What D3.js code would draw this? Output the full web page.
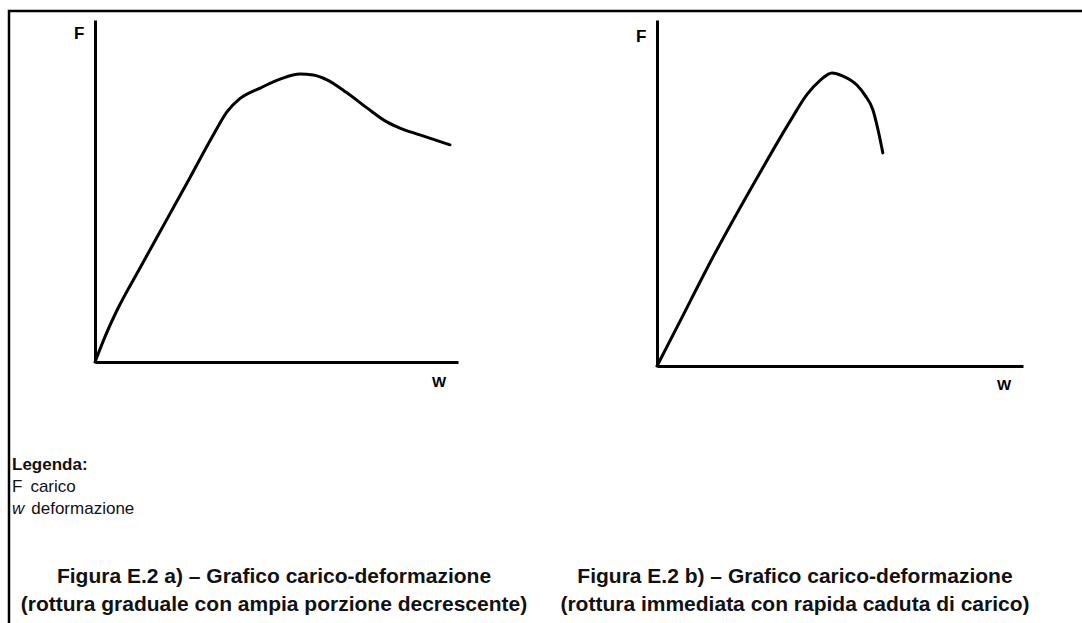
<!DOCTYPE html>
<html>
<head>
<meta charset="utf-8">
<script src="https://cdn.jsdelivr.net/npm/d3@7"></script>
<style>
  body { margin: 0; background: #fff; }
  svg { display: block; font-family: "Liberation Sans", Arial, sans-serif; }
  .axis path { stroke: #000; stroke-width: 3px; }
  .curve { fill: none; stroke: #000; stroke-width: 3px; stroke-linejoin: round; stroke-linecap: round; }
</style>
</head>
<body>
<svg width="1082" height="623"></svg>
<script>
// curve a) gradual failure: deformation w vs load F (relative units 0-100)
var wA = [0, 3.0, 6.1, 12.4, 19.8, 26.0, 32.5, 36.4, 39.9, 45.5, 51.0, 56.5, 60.1, 63.9, 69.4, 74.9, 80.4, 84.0, 89.5, 97.8];
var fA = [0, 8.0, 15.2, 27.5, 41.7, 53.6, 66.2, 73.2, 77.0, 80.1, 82.7, 84.2, 83.9, 82.5, 78.7, 74.3, 70.2, 68.4, 66.4, 63.5];

// curve b) immediate failure
var wB = [0, 5.5, 15.3, 28.1, 36.5, 41.0, 44.5, 47.8, 50.8, 54.6, 56.8, 59.0, 60.4, 61.7];
var fB = [0, 11.3, 31.5, 55.8, 71.0, 78.5, 82.5, 84.7, 83.8, 81.2, 78.3, 74.0, 68.2, 61.6];

var legendLines = ["carico", "deformazione"];
var captionA = ["Figura E.2 a) \u2013 Grafico carico-deformazione", "(rottura graduale con ampia porzione decrescente)"];
var captionB = ["Figura E.2 b) \u2013 Grafico carico-deformazione", "(rottura immediata con rapida caduta di carico)"];

var svg = d3.select("svg");
svg.append("rect").attr("width", 1082).attr("height", 623).attr("fill", "#fff");

// frame (top and left edge only)
svg.append("path")
    .attr("d", "M9,623 V11 H1082")
    .attr("fill", "none")
    .attr("stroke", "#000")
    .attr("stroke-width", 2.5);

function drawPanel(ws, fs, box) {
    var x = d3.scaleLinear().domain([0, 100]).range([box.left, box.right]);
    var y = d3.scaleLinear().domain([0, 100]).range([box.bottom, box.top]);

    svg.append("g")
        .attr("class", "axis")
        .attr("transform", "translate(0," + box.bottom + ")")
        .call(d3.axisBottom(x).tickValues([]).tickSizeOuter(0));
    svg.append("g")
        .attr("class", "axis")
        .attr("transform", "translate(" + box.left + ",0)")
        .call(d3.axisLeft(y).tickValues([]).tickSizeOuter(0));

    var pts = ws.map(function(w, i) { return [w, fs[i]]; });
    var line = d3.line()
        .x(function(d) { return x(d[0]); })
        .y(function(d) { return y(d[1]); })
        .curve(d3.curveMonotoneX);
    svg.append("path").datum(pts).attr("class", "curve").attr("d", line);

    svg.append("text")
        .attr("x", box.left - 21)
        .attr("y", box.top + box.fDy)
        .style("font-size", "17px")
        .style("font-weight", "bold")
        .text("F");
    svg.append("text")
        .attr("x", x(100) - 26)
        .attr("y", box.bottom + box.wDy)
        .style("font-size", "15px")
        .style("font-weight", "bold")
        .text("W");
}

drawPanel(wA, fA, { left: 95, right: 458, top: 20, bottom: 362, fDy: 19, wDy: 25 });
drawPanel(wB, fB, { left: 657, right: 1023, top: 20, bottom: 366, fDy: 22, wDy: 24 });

// legend
svg.append("text")
    .attr("x", 12).attr("y", 470)
    .style("font-size", "17px").style("font-weight", "bold").attr("fill", "#111")
    .text("Legenda:");
var l1 = svg.append("text").attr("x", 12).attr("y", 492).style("font-size", "17px").attr("fill", "#111");
l1.append("tspan").text("F");
l1.append("tspan").attr("dx", 8).text(legendLines[0]);
var l2 = svg.append("text").attr("x", 12).attr("y", 514).style("font-size", "17px").attr("fill", "#111");
l2.append("tspan").style("font-style", "italic").text("w");
l2.append("tspan").attr("dx", 7).text(legendLines[1]);

// captions
function caption(lines, cx) {
    svg.selectAll(null)
        .data(lines)
        .enter()
        .append("text")
        .attr("x", cx)
        .attr("y", function(d, i) { return 583 + i * 28; })
        .attr("text-anchor", "middle")
        .style("font-size", "21px")
        .style("font-weight", "bold")
        .attr("fill", "#111")
        .text(function(d) { return d; });
}
caption(captionA, 274);
caption(captionB, 795);
</script>
</body>
</html>
